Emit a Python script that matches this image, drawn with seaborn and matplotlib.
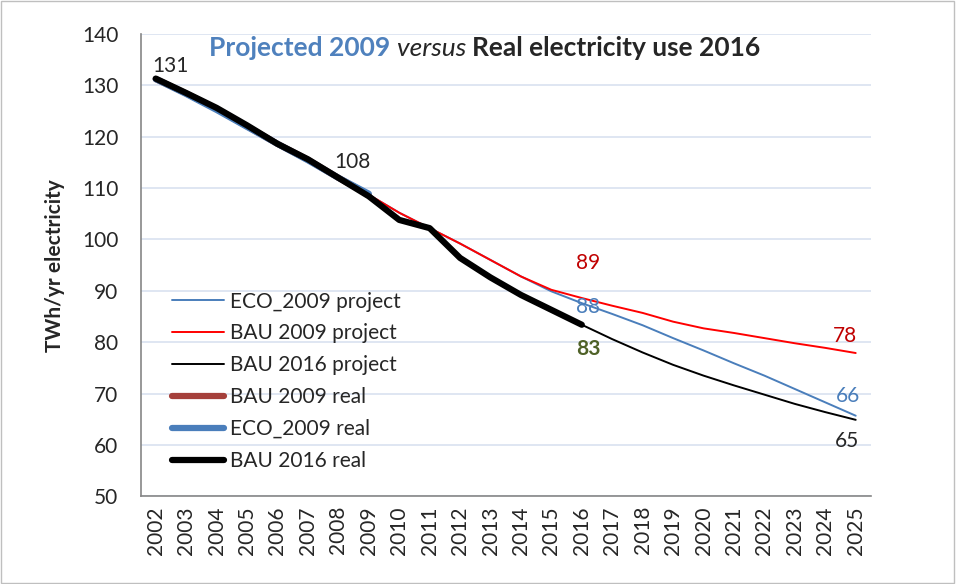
import numpy as np
import pandas as pd
import seaborn as sns
import matplotlib.pyplot as plt
from matplotlib.patches import Rectangle

years = list(range(2002, 2026))

# real use 2002-2016 (BAU 2016 real)
bau2016_real = [131.3, 128.5, 125.6, 122.2, 118.6, 115.6, 112.0, 108.4, 103.8, 102.2,
                96.4, 92.6, 89.2, 86.3, 83.4]
# real 2002-2009 as seen in 2009
eco2009_real = [131.2, 128.3, 125.2, 121.9, 118.6, 115.4, 112.0, 108.9]
bau2009_real = [131.2, 128.4, 125.4, 122.0, 118.6, 115.5, 112.0, 108.7]
# projections
eco2009_proj = [108.7, 105.2, 102.2, 99.2, 96.0, 92.8, 89.9, 87.6, 85.5, 83.3, 80.8,
                78.4, 75.9, 73.5, 70.9, 68.3, 65.7]
bau2009_proj = [108.7, 105.2, 102.2, 99.2, 96.0, 92.8, 90.2, 88.6, 87.1, 85.7, 84.0,
                82.7, 81.8, 80.8, 79.8, 78.9, 77.9]
bau2016_proj = [83.4, 80.6, 78.0, 75.6, 73.5, 71.6, 69.8, 68.0, 66.4, 64.9]

series = [
    ('ECO_2009 project', 2009, eco2009_proj, '#4A7EBB', 1.4),
    ('BAU 2009 project', 2009, bau2009_proj, '#FF0000', 1.4),
    ('BAU 2016 project', 2016, bau2016_proj, '#000000', 1.4),
    ('BAU 2009 real', 2002, bau2009_real, '#A5403B', 4.5),
    ('ECO_2009 real', 2002, eco2009_real, '#4A7EBB', 4.5),
    ('BAU 2016 real', 2002, bau2016_real, '#000000', 4.5),
]

sns.set_style('white')
plt.rcParams['font.family'] = ['Lato', 'DejaVu Sans']

fig = plt.figure(figsize=(9.56, 5.84), dpi=100)
ax = fig.add_axes([0.147, 0.150, 0.764, 0.792])

for name, start, vals, col, lw in series:
    df = pd.DataFrame({'year': range(start, start + len(vals)), 'val': vals})
    df['pos'] = df['year'] - years[0]
    sns.lineplot(data=df, x='pos', y='val', ax=ax, color=col, linewidth=lw,
                 label=name, solid_capstyle='round')

fs = 15
ax.set_ylim(50, 140)
ax.set_yticks(range(50, 141, 10))
ax.set_xlim(-0.5, len(years) - 0.5)
ax.set_xticks(range(len(years)))
ax.set_xticklabels([str(y) for y in years], rotation=90)
ax.set_xticks(np.arange(-0.5, len(years), 1), minor=True)
ax.tick_params(axis='x', which='major', length=0, pad=7, labelsize=fs)
ax.tick_params(axis='x', which='minor', length=5, color='#868686', direction='out')
ax.tick_params(axis='y', length=5, color='#868686', direction='out', labelsize=fs, pad=11)
ax.set_xlabel('')
ax.set_ylabel('TWh/yr electricity', fontsize=fs, fontweight='bold', labelpad=12)
ax.grid(axis='y', color='#D9E2F0', linewidth=1.2)
ax.set_axisbelow(True)
for s in ['top', 'right']:
    ax.spines[s].set_visible(False)
for s in ['left', 'bottom']:
    ax.spines[s].set_color('#868686')
    ax.spines[s].set_linewidth(1.2)

ax.legend(loc='upper left', bbox_to_anchor=(0.043, 0.443), frameon=False,
          fontsize=fs, handlelength=2.5, handletextpad=0.3, labelspacing=0.57,
          borderaxespad=0, borderpad=0)

# value labels
ax.text(0.47, 133.8, '131', fontsize=fs, ha='center', va='center')
ax.text(6.45, 115.1, '108', fontsize=fs, ha='center', va='center')
ax.text(14.2, 95.4, '89', fontsize=fs, ha='center', va='center', color='#C00000')
ax.text(14.2, 86.9, '88', fontsize=fs, ha='center', va='center', color='#4A7EBB')
ax.text(14.2, 78.7, '83', fontsize=fs, ha='center', va='center', color='#4F6228',
        fontweight='bold')
ax.text(22.66, 81.2, '78', fontsize=fs, ha='center', va='center', color='#C00000')
ax.text(22.76, 69.6, '66', fontsize=fs, ha='center', va='center', color='#4A7EBB')
ax.text(22.73, 60.8, '65', fontsize=fs, ha='center', va='center')

# title in three styles
ty = 0.917
tfs = 19
t1 = fig.text(0.219, ty, 'Projected 2009 ', fontsize=tfs, fontweight='bold',
              color='#4F81BD', va='center')
fig.canvas.draw()
r = fig.canvas.get_renderer()
bb = t1.get_window_extent(r)
t2 = fig.text(bb.x1 / fig.bbox.width, ty, 'versus ', fontsize=tfs, style='italic',
              va='center')
bb = t2.get_window_extent(r)
fig.text(bb.x1 / fig.bbox.width, ty, 'Real electricity use 2016', fontsize=tfs,
         fontweight='bold', va='center')

fig.patches.append(Rectangle((0.001, 0.002), 0.997, 0.996, transform=fig.transFigure,
                             fill=False, edgecolor='#BFBFBF', linewidth=1))

fig.savefig('out.png', dpi=100)
